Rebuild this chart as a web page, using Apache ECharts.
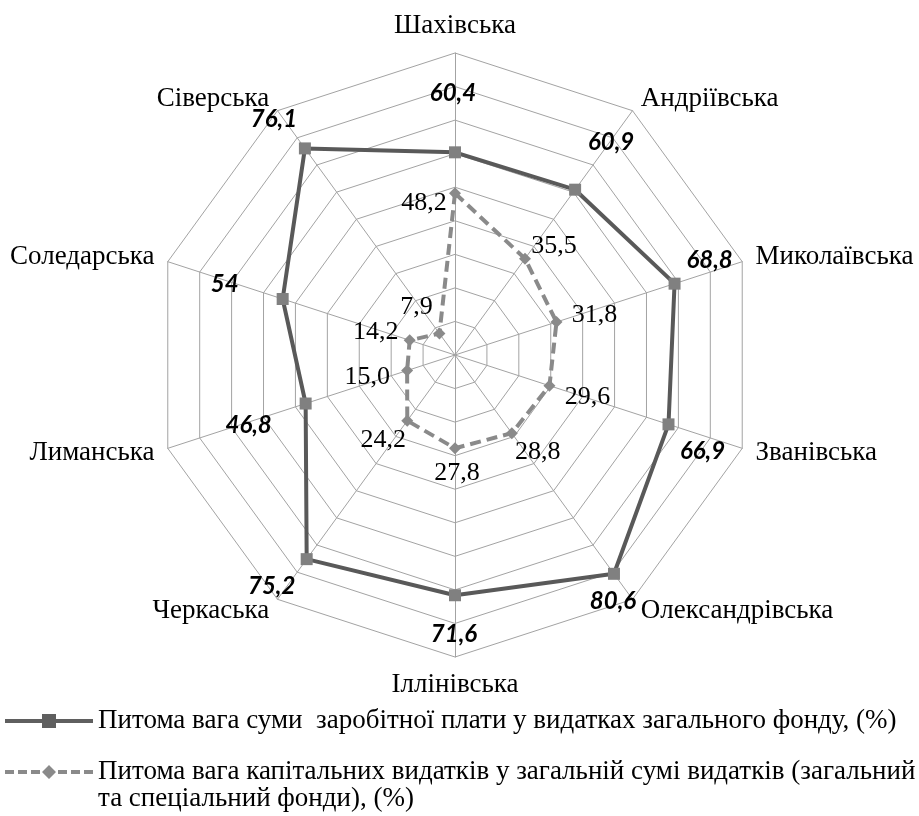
<!DOCTYPE html>
<html>
<head>
<meta charset="utf-8">
<script src="https://cdn.jsdelivr.net/npm/echarts@6/dist/echarts.min.js"></script>
<style>
html,body{margin:0;padding:0;background:#fff;}
#chart{width:919px;height:816px;}
</style>
</head>
<body>
<div id="chart"></div>
<script>
// ---- data (clockwise from the top) ----
const categories = ['Шахівська','Андріївська','Миколаївська','Званівська','Олександрівська','Іллінівська','Черкаська','Лиманська','Соледарська','Сіверська'];
const wageShare = [60.4, 60.9, 68.8, 66.9, 80.6, 71.6, 75.2, 46.8, 54, 76.1];
const capitalShare = [48.2, 35.5, 31.8, 29.6, 28.8, 27.8, 24.2, 15.0, 14.2, 7.9];
const seriesNames = [
  'Питома вага суми  заробітної плати у видатках загального фонду, (%)',
  'Питома вага капітальних видатків у загальній сумі видатків (загальний та спеціальний фонди), (%)'
];
const legendWrapAt = ' та спеціальний';
const axisMin = 0, axisMax = 90, axisStep = 10;

// ---- label placement (style, px offsets from each marker, clockwise order) ----
const wageLabelOffsets = [[-2,-59],[36,-47],[35,-23],[34,27],[-1,27],[-1,39],[-35,27],[-57,22],[-58,-15],[-31,-29]];
const capLabelOffsets = [[-31,10],[29,-12],[38,-7],[38,11],[26,19],[2,25],[-24,19],[-40,7],[-34,-8],[-23,-26]];

const fmtWage = v => String(v).replace('.', ',');
const fmtCap = v => v.toFixed(1).replace('.', ',');
const wageTexts = wageShare.map(fmtWage);
const capTexts = capitalShare.map(fmtCap);

// ECharts radar runs counter-clockwise: reorder so the picture reads clockwise
const order = [0].concat(categories.map((_, i) => i).slice(1).reverse());
const pick = arr => order.map(i => arr[i]);

const chart = echarts.init(document.getElementById('chart'), null, {renderer: 'canvas'});
const serif = 'Liberation Serif, Times New Roman, serif';

const wrapIdx = seriesNames[1].indexOf(legendWrapAt);
const legend2First = seriesNames[1].slice(0, wrapIdx);
const legend2Rest = seriesNames[1].slice(wrapIdx + 1);

const option = {
  backgroundColor: '#ffffff',
  animation: false,
  radar: {
    center: [455, 355],
    radius: 302,
    startAngle: 90,
    shape: 'polygon',
    splitNumber: (axisMax - axisMin) / axisStep,
    nameGap: 14,
    axisName: {color: '#000', fontFamily: serif, fontSize: 27},
    indicator: pick(categories).map(n => ({name: n, min: axisMin, max: axisMax})),
    splitLine: {lineStyle: {color: '#a3a3a3', width: 1}},
    splitArea: {show: false},
    axisLine: {lineStyle: {color: '#a3a3a3', width: 1}},
    axisTick: {show: false},
    axisLabel: {show: false}
  },
  legend: {
    orient: 'vertical',
    left: 5,
    top: 707,
    height: 300,
    padding: 0,
    itemGap: 23,
    itemWidth: 88,
    itemHeight: 14,
    selectedMode: false,
    textStyle: {color: '#000', fontFamily: serif, fontSize: 27, lineHeight: 28},
    formatter: name => (name === seriesNames[1] ? legend2First : name),
    data: [
      {name: seriesNames[0],
       icon: 'path://M0,5h37v-5h14v5h37v4h-37v5h-14v-5h-37z',
       itemStyle: {color: '#5f5f5f'}},
      {name: seriesNames[1],
       icon: 'path://M0,5h9v4h-9z M13,5h9v4h-9z M26,5h9v4h-9z M44,0l7,7l-7,7l-7,-7z M53,5h9v4h-9z M66,5h9v4h-9z M79,5h9v4h-9z',
       itemStyle: {color: '#8a8a8a'}}
    ]
  },
  graphic: [{
    type: 'text',
    x: 98,
    y: 799,
    style: {text: legend2Rest, fill: '#000', font: '27px ' + serif, verticalAlign: 'middle', align: 'left'}
  }],
  series: [
    {
      type: 'radar',
      name: seriesNames[0],
      symbol: 'rect',
      symbolSize: 12,
      z: 3,
      itemStyle: {color: '#808080'},
      lineStyle: {color: '#595959', width: 4},
      label: {
        show: true,
        position: 'inside',
        color: '#000',
        fontFamily: 'Lato, Open Sans, sans-serif',
        fontWeight: 'bold',
        fontStyle: 'italic',
        fontSize: 24,
        formatter: p => fmtWage(p.value)
      },
      labelLayout: p => {
        const i = wageTexts.indexOf(p.text);
        return i < 0 ? {} : {dx: wageLabelOffsets[i][0], dy: wageLabelOffsets[i][1]};
      },
      data: [{value: pick(wageShare), name: seriesNames[0]}]
    },
    {
      type: 'radar',
      name: seriesNames[1],
      symbol: 'diamond',
      symbolSize: 12,
      z: 2,
      itemStyle: {color: '#8a8a8a'},
      lineStyle: {color: '#8a8a8a', width: 4, type: [11, 6]},
      label: {
        show: true,
        position: 'inside',
        color: '#000',
        fontFamily: serif,
        fontSize: 26,
        formatter: p => fmtCap(p.value)
      },
      labelLayout: p => {
        const i = capTexts.indexOf(p.text);
        return i < 0 ? {} : {dx: capLabelOffsets[i][0], dy: capLabelOffsets[i][1]};
      },
      data: [{value: pick(capitalShare), name: seriesNames[1]}]
    }
  ]
};
chart.setOption(option);
</script>
</body>
</html>
